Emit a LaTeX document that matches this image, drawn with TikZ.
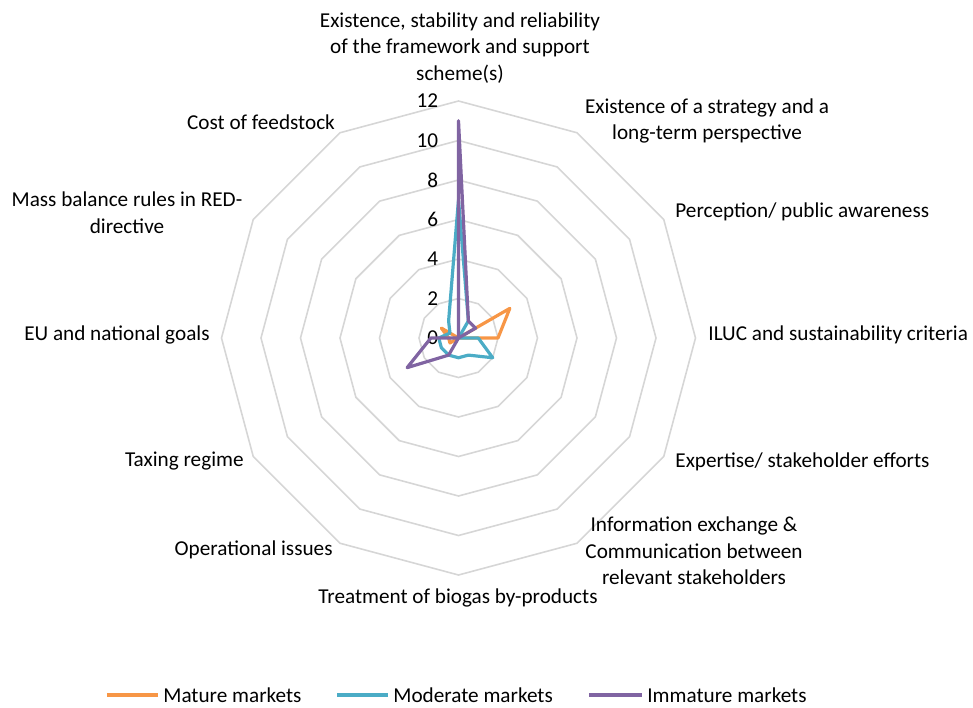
\documentclass[tikz,border=0pt]{standalone}
\usepackage{fontspec}
\setmainfont{Carlito}
\usetikzlibrary{positioning}
\definecolor{ringgray}{RGB}{214,214,214}
\definecolor{mature}{RGB}{247,150,70}
\definecolor{moderate}{RGB}{75,172,198}
\definecolor{immature}{RGB}{128,100,162}
\def\Unit{19.75}

\begin{document}
\begin{tikzpicture}[% one unit is one pixel of the chart, origin at the centre
      x=0.5pt, y=0.5pt,
      every node/.style={
        inner sep=0pt,   % anchors sit right on the text
        font=\fontsize{10.6}{13.3}\selectfont
      },
      ring/.style={draw=ringgray, line width=0.8pt},
      series/.style={line width=1.6pt, line join=round},
      key/.style={line width=2pt},
      catlabel/.style={align=center}
    ]
    \useasboundingbox (-458.5,-369) rectangle (514.5,338);

    % rings 2 .. 12
    \foreach \r in {2,4,...,12}
      \draw[ring] (90:{\r*\Unit}) \foreach \k in {1,...,11}{ -- ({90-30*\k}:{\r*\Unit})} -- cycle;
    \foreach \r in {0,2,...,12}
      \node[anchor=east] (tick\r) at (-20,{\r*\Unit}) {\r};

    % data points, clockwise from the top
    \foreach \v [count=\k from 0] in {0,0,3,2,0,0,0,0,0.5,0.5,1,0}
      \coordinate (ma\k) at ({90-30*\k}:{\v*\Unit});
    \foreach \v [count=\k from 0] in {7,1,0,1,2,1,1,1,1,1,0.5,1}
      \coordinate (mo\k) at ({90-30*\k}:{\v*\Unit});
    \foreach \v [count=\k from 0] in {11,1,1,0,0,0,0,1,3,1.4,0,0}
      \coordinate (im\k) at ({90-30*\k}:{\v*\Unit});
    \draw[series, draw=mature] (ma0) \foreach \k in {1,...,11}{ -- (ma\k)} -- cycle;
    \draw[series, draw=moderate] (mo0) \foreach \k in {1,...,11}{ -- (mo\k)} -- cycle;
    \draw[series, draw=immature] (im0) \foreach \k in {1,...,11}{ -- (im\k)} -- cycle;

    % category labels
    \node[catlabel] (frame) at (1.5,290) {Existence, stability and reliability\\of the framework and support\\scheme(s)};
    \node[catlabel] (strategy) at (248.5,217) {Existence of a strategy and a\\long-term perspective};
    \node[anchor=west] (percep) at (216.5,126) {Perception/ public awareness};
    \node[anchor=west] (iluc) at (249.5,3) {ILUC and sustainability criteria};
    \node[anchor=west] (expert) at (216.5,-124) {Expertise/ stakeholder efforts};
    \node[catlabel] (info) at (235.5,-213) {Information exchange \&\\Communication between\\relevant stakeholders};
    \node[catlabel] (biogas) at (-0.5,-260) {Treatment of biogas by-products};
    \node[anchor=east] (oper) at (-125.5,-212) {Operational issues};
    \node[anchor=east] (tax) at (-214.5,-123) {Taxing regime};
    \node[anchor=east] (goals) at (-248.5,3) {EU and national goals};
    \node[catlabel] (massbal) at (-331.5,125) {Mass balance rules in RED-\\directive};
    \node[catlabel] (feed) at (-197.5,216) {Cost of feedstock};

    % legend
    \coordinate (keyma) at (-351.5,-357);
    \draw[key, draw=mature] (keyma) -- ++(51,0) coordinate (keymaend);
    \node[right=2.5pt of keymaend] (legma) {Mature markets};
    \coordinate (keymo) at (-121.5,-357);
    \draw[key, draw=moderate] (keymo) -- ++(51,0) coordinate (keymoend);
    \node[right=2.5pt of keymoend] (legmo) {Moderate markets};
    \coordinate (keyim) at (130.5,-357);
    \draw[key, draw=immature] (keyim) -- ++(53,0) coordinate (keyimend);
    \node[right=2.5pt of keyimend] (legim) {Immature markets};
  \end{tikzpicture}
\end{document}
